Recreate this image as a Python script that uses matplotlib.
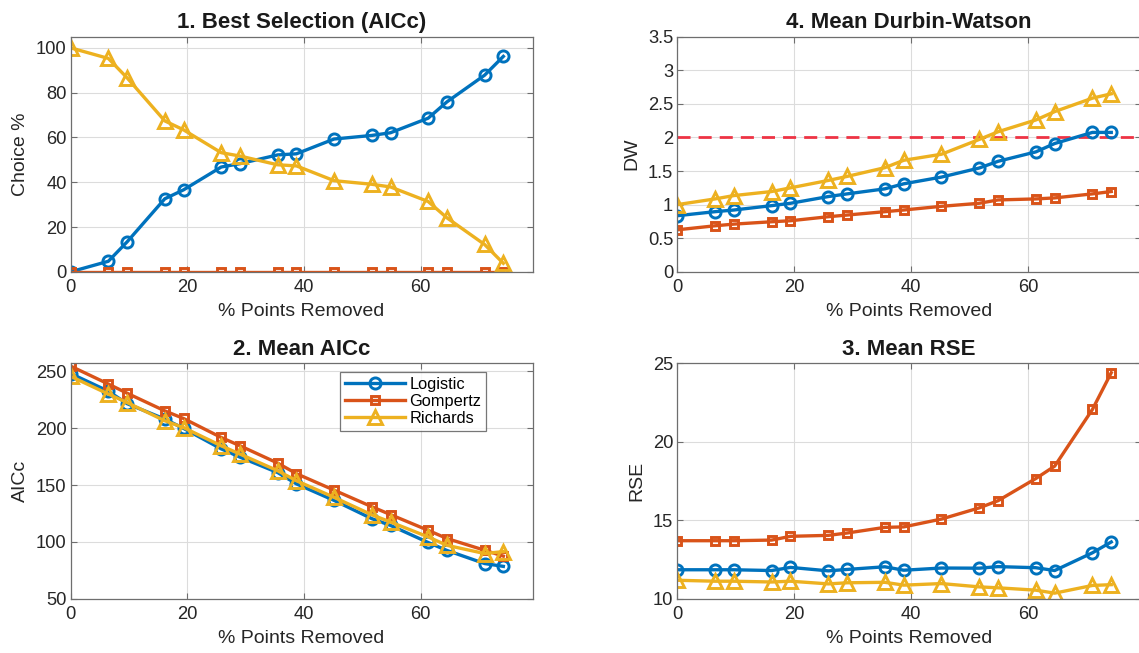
import matplotlib
matplotlib.use("Agg")
import matplotlib.pyplot as plt
from matplotlib.ticker import FuncFormatter

plt.rcParams['font.family'] = ['Liberation Sans', 'DejaVu Sans']

# % points removed
pct_removed = [0, 6.45, 9.68, 16.13, 19.35, 25.81, 29.03, 35.48, 38.71,
               45.16, 51.61, 54.84, 61.29, 64.52, 70.97, 74.19]
models = ["Logistic", "Gompertz", "Richards"]

# 1. Best selection (AICc), choice %
choice_logistic = [0, 4.7, 13.4, 32.6, 36.6, 46.8, 48.3, 52.2, 52.7,
                   59.3, 60.9, 62.1, 68.6, 75.9, 87.8, 96.2]
choice_gompertz = [0] * 16
choice_richards = [100, 95.3, 86.6, 67.4, 63.4, 53.2, 51.7, 47.8, 47.3,
                   40.7, 39.1, 37.9, 31.4, 24.1, 12.2, 3.8]

# 2. Mean AICc
aicc_logistic = [248, 232.5, 221.5, 208, 199.8, 181.8, 174.5, 161, 151,
                 136.5, 120.5, 114.5, 99.5, 92.5, 81, 78.5]
aicc_gompertz = [254.5, 238.8, 230.7, 215.2, 208.5, 191.8, 184.5, 169.3, 160,
                 145.5, 131, 124, 110.2, 103, 92.7, 87.5]
aicc_richards = [245.5, 230, 222.5, 206.5, 200.5, 184.5, 177.2, 162.6, 153.8,
                 139.2, 123.9, 117.5, 104.4, 97, 89.8, 91.5]

# 3. Mean RSE
rse_logistic = [11.85, 11.85, 11.85, 11.8, 12.0, 11.78, 11.87, 12.04, 11.82,
                11.96, 11.95, 12.05, 11.98, 11.8, 12.93, 13.62]
rse_gompertz = [13.7, 13.7, 13.7, 13.74, 13.98, 14.04, 14.19, 14.55, 14.58,
                15.08, 15.79, 16.25, 17.66, 18.45, 22.06, 24.4]
rse_richards = [11.18, 11.12, 11.12, 11.07, 11.12, 10.95, 11.02, 11.05, 10.87,
                10.97, 10.76, 10.7, 10.55, 10.36, 10.85, 10.9]

# 4. Mean Durbin-Watson
dw_logistic = [0.835, 0.895, 0.92, 0.985, 1.02, 1.12, 1.16, 1.235, 1.31,
               1.41, 1.545, 1.645, 1.785, 1.91, 2.075, 2.075]
dw_gompertz = [0.625, 0.685, 0.71, 0.745, 0.76, 0.82, 0.845, 0.895, 0.92,
               0.975, 1.02, 1.07, 1.085, 1.10, 1.16, 1.195]
dw_richards = [1.00, 1.085, 1.135, 1.195, 1.25, 1.36, 1.42, 1.55, 1.66,
               1.75, 1.97, 2.085, 2.26, 2.385, 2.585, 2.65]
dw_reference = 2.0

colors = ["#0072BD", "#D95319", "#EDB120"]
markers = ["o", "s", "^"]
msizes = [8, 6, 10]

W, H = 1139, 653
fig = plt.figure(figsize=(W / 100, H / 100), dpi=100)


def make_ax(x0, y0, x1, y1):
    return fig.add_axes([x0 / W, 1 - y1 / H, (x1 - x0) / W, (y1 - y0) / H])


ax1 = make_ax(70.7, 36.7, 532.5, 271.8)
ax4 = make_ax(677.3, 36.7, 1140.5, 271.8)
ax2 = make_ax(70.7, 363.3, 532.5, 598.8)
ax3 = make_ax(677.3, 363.3, 1140.5, 598.8)

spine_col = "#6e6e6e"
txt_col = "#262626"


def style(ax, title, ylabel, ylim, yticks):
    ax.set_xlim(0, 79.19)
    ax.set_ylim(*ylim)
    ax.set_xticks([0, 20, 40, 60])
    ax.set_yticks(yticks)
    ax.yaxis.set_major_formatter(FuncFormatter(lambda v, p: "%g" % v))
    ax.grid(True, color="#dcdcdc", linewidth=0.8)
    ax.set_axisbelow(True)
    for s in ax.spines.values():
        s.set_color(spine_col)
        s.set_linewidth(0.9)
    ax.tick_params(direction="in", length=4, width=0.8, color=spine_col,
                   labelsize=13.2, labelcolor=txt_col, top=True, right=True,
                   pad=3)
    ax.tick_params(axis="x", pad=5)
    ax.set_title(title, fontsize=16, fontweight="bold", color="#1a1a1a", pad=6)
    ax.set_xlabel("% Points Removed", fontsize=14, color=txt_col, labelpad=5)
    ax.set_ylabel(ylabel, fontsize=14, color=txt_col, labelpad=5)


def plot_series(ax, series):
    handles = []
    for ys, c, m, ms, lab in zip(series, colors, markers, msizes, models):
        h, = ax.plot(pct_removed, ys, color=c, marker=m, markersize=ms,
                     markerfacecolor="none", markeredgecolor=c,
                     markeredgewidth=2.1, linewidth=2.4, label=lab)
        handles.append(h)
    return handles


plot_series(ax1, [choice_logistic, choice_gompertz, choice_richards])
style(ax1, "1. Best Selection (AICc)", "Choice %", (0, 105), [0, 20, 40, 60, 80, 100])

handles = plot_series(ax2, [aicc_logistic, aicc_gompertz, aicc_richards])
style(ax2, "2. Mean AICc", "AICc", (50, 257), [50, 100, 150, 200, 250])
leg = ax2.legend(handles=handles, loc="upper right", bbox_to_anchor=(0.9, 0.962),
                 fontsize=11.8, frameon=True, fancybox=False, borderpad=0.3,
                 labelspacing=0.12, handlelength=3.7, handletextpad=0.25,
                 borderaxespad=0)
leg.get_frame().set_edgecolor("#555555")
leg.get_frame().set_linewidth(0.9)

plot_series(ax3, [rse_logistic, rse_gompertz, rse_richards])
style(ax3, "3. Mean RSE", "RSE", (10, 25), [10, 15, 20, 25])

ax4.axhline(dw_reference, color="#ee3344", linestyle=(0, (4.7, 2.9)), linewidth=2.0, zorder=1.5)
plot_series(ax4, [dw_logistic, dw_gompertz, dw_richards])
style(ax4, "4. Mean Durbin-Watson", "DW", (0, 3.5), [0, 0.5, 1, 1.5, 2, 2.5, 3, 3.5])

fig.savefig("out.png", dpi=100)
